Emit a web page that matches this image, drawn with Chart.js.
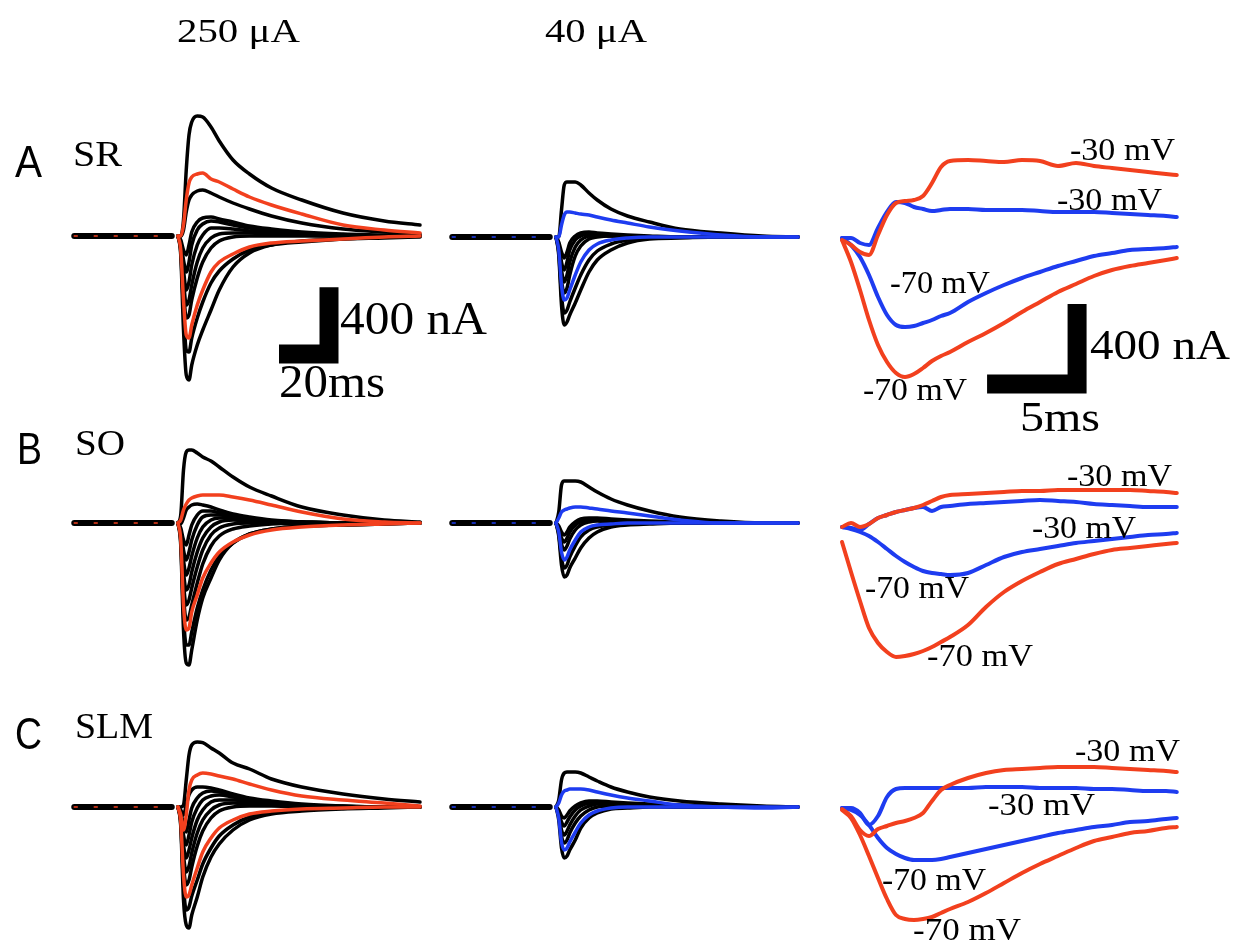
<!DOCTYPE html>
<html>
<head>
<meta charset="utf-8">
<title>Evoked currents SR / SO / SLM</title>
<script src="https://cdn.jsdelivr.net/npm/chart.js@4.4.1/dist/chart.umd.min.js"></script>
<style>
  html, body { margin: 0; padding: 0; background: #fff; }
  #fig { position: relative; width: 1248px; height: 949px; overflow: hidden; }
  #traces { position: absolute; left: 0; top: 0; }
  .lbl { position: absolute; white-space: nowrap; line-height: 1; color: #000; transform-origin: 0 0; }
  .serif { font-family: "Liberation Serif", "Times New Roman", Times, serif; }
  .sans { font-family: "Liberation Sans", Arial, Helvetica, sans-serif; }
</style>
</head>
<body>
<div id="fig">
  <canvas id="traces" width="1248" height="949"></canvas>
</div>
<script>
// ---- data (ms, nA) ----

// sample times after the stimulus for the I-V families (ms)
const fanT = [0, 1.1, 2.2, 3.3, 4.4, 5.5, 7.7, 9.9, 13.2, 16.5, 22, 28.6, 37.4, 49.5, 66, 82.5, 96.8];
// pre-stimulus baseline
const preT = [-41.5, -2.5];
const preI = [0, 0];

// SR, 250 uA
const sr250Black = [
  [0, 0, 96, 396, 606, 684, 720, 714, 654, 570, 456, 372, 288, 216, 138, 90, 66],
  [0, 0, 36, 144, 216, 246, 270, 276, 258, 234, 198, 162, 120, 78, 42, 24, 12],
  [0, -24, -84, -114, -54, 24, 84, 108, 114, 102, 84, 60, 42, 24, 12, 6, 0],
  [0, -36, -144, -216, -156, -54, 36, 72, 90, 84, 66, 48, 30, 18, 6, 0, 0],
  [0, -48, -204, -324, -276, -174, -54, 6, 48, 48, 42, 30, 18, 6, 0, 0, 0],
  [0, -60, -264, -414, -384, -294, -156, -72, -12, 12, 18, 18, 12, 6, 0, 0, 0],
  [0, -72, -324, -492, -474, -384, -252, -156, -72, -30, -6, 0, 0, 0, 0, 0, 0],
  [0, -96, -444, -684, -696, -612, -492, -396, -282, -210, -138, -84, -54, -36, -18, -6, 0],
  [0, -114, -564, -834, -864, -774, -654, -564, -444, -324, -186, -102, -54, -30, -18, -12, -6]
];
const sr250Red = [
  [0, 0, 66, 216, 318, 354, 372, 378, 342, 324, 282, 234, 186, 132, 66, 36, 18],
  [0, -84, -384, -594, -612, -534, -414, -324, -216, -156, -108, -66, -42, -30, -18, -6, 0]
];

// SR, 40 uA
const sr40Black = [
  [0, 0, 162, 312, 330, 330, 330, 312, 264, 222, 168, 126, 90, 48, 24, 6, 0],
  [0, -30, -90, -126, -90, -36, 6, 24, 30, 24, 18, 12, 6, 0, 0, 0, 0],
  [0, -42, -150, -198, -150, -78, -18, 6, 18, 18, 12, 6, 0, 0, 0, 0, 0],
  [0, -54, -198, -270, -228, -150, -60, -18, 6, 12, 6, 6, 0, 0, 0, 0, 0],
  [0, -66, -258, -336, -306, -228, -114, -54, -12, 0, 6, 0, 0, 0, 0, 0, 0],
  [0, -90, -348, -456, -438, -390, -306, -228, -138, -84, -42, -18, -6, 0, 0, 0, 0],
  [0, -108, -408, -528, -510, -468, -396, -318, -210, -138, -78, -36, -12, -6, 0, 0, 0]
];
const sr40Blue = [
  [0, 0, 72, 132, 150, 150, 144, 138, 132, 120, 102, 84, 60, 36, 12, 0, 0],
  [0, -78, -288, -378, -366, -318, -228, -150, -78, -42, -18, -6, 0, 0, 0, 0, 0]
];

// SO, 250 uA
const so250Black = [
  [0, 48, 318, 426, 438, 438, 420, 396, 372, 336, 276, 216, 162, 96, 48, 18, 6],
  [0, -6, 30, 78, 96, 108, 114, 108, 96, 78, 54, 36, 18, 6, 0, 0, 0],
  [0, -30, -102, -132, -72, -12, 48, 72, 72, 60, 42, 24, 12, 6, 0, 0, 0],
  [0, -42, -162, -222, -174, -102, -12, 36, 48, 48, 36, 24, 12, 6, 0, 0, 0],
  [0, -54, -222, -312, -270, -198, -90, -24, 18, 30, 30, 18, 12, 6, 0, 0, 0],
  [0, -66, -294, -402, -372, -294, -174, -90, -24, 6, 18, 12, 6, 0, 0, 0, 0],
  [0, -78, -360, -492, -462, -390, -264, -162, -72, -30, -6, 0, 0, 0, 0, 0, 0],
  [0, -90, -432, -582, -564, -492, -360, -246, -138, -78, -36, -18, -6, 0, 0, 0, 0],
  [0, -114, -552, -732, -732, -654, -510, -402, -282, -198, -120, -66, -36, -18, -12, -6, 0],
  [0, -132, -642, -840, -852, -762, -582, -450, -330, -222, -120, -66, -36, -18, -12, -6, 0]
];
const so250Red = [
  [0, 18, 78, 114, 138, 150, 162, 168, 168, 168, 156, 138, 108, 66, 24, 6, 0],
  [0, -102, -492, -642, -630, -534, -432, -330, -240, -174, -114, -72, -42, -24, -12, -6, 0]
];

// SO, 40 uA
const so40Black = [
  [0, 66, 228, 252, 252, 252, 252, 246, 216, 186, 144, 108, 72, 36, 12, 0, 0],
  [0, -18, -54, -72, -54, -24, 6, 24, 30, 30, 24, 18, 12, 6, 0, 0, 0],
  [0, -30, -90, -114, -90, -54, -12, 6, 18, 18, 12, 6, 6, 0, 0, 0, 0],
  [0, -42, -126, -162, -138, -96, -42, -12, 6, 12, 6, 6, 0, 0, 0, 0, 0],
  [0, -66, -210, -270, -252, -204, -138, -84, -42, -24, -12, -6, 0, 0, 0, 0, 0],
  [0, -78, -252, -324, -312, -270, -210, -150, -90, -54, -24, -12, -6, 0, 0, 0, 0]
];
const so40Blue = [
  [0, 30, 66, 78, 84, 90, 96, 96, 90, 84, 72, 60, 42, 18, 0, 0, 0],
  [0, -54, -174, -222, -204, -162, -102, -54, -24, -12, -6, 0, 0, 0, 0, 0, 0]
];

// SLM, 250 uA
const slm250Black = [
  [0, 0, 12, 162, 312, 372, 390, 386, 354, 324, 264, 228, 168, 120, 78, 48, 30],
  [0, -18, -48, 12, 72, 102, 120, 120, 114, 102, 78, 54, 36, 18, 6, 0, 0],
  [0, -30, -108, -150, -78, -6, 54, 84, 96, 90, 72, 48, 30, 12, 6, 0, 0],
  [0, -42, -168, -228, -168, -90, -6, 42, 66, 72, 60, 42, 24, 12, 0, 0, 0],
  [0, -54, -228, -306, -258, -186, -78, -18, 30, 42, 42, 30, 18, 6, 0, 0, 0],
  [0, -66, -288, -390, -354, -276, -156, -78, -18, 12, 24, 18, 12, 6, 0, 0, 0],
  [0, -78, -348, -468, -438, -360, -234, -144, -66, -24, 0, 6, 6, 0, 0, 0, 0],
  [0, -102, -468, -618, -600, -534, -438, -342, -246, -174, -108, -60, -30, -18, -6, 0, 0],
  [0, -114, -558, -708, -726, -648, -540, -420, -300, -222, -138, -78, -42, -24, -12, -6, 0]
];
const slm250Red = [
  [0, -48, -138, -48, 102, 162, 192, 204, 198, 186, 168, 138, 102, 66, 42, 24, 6],
  [0, -90, -408, -540, -528, -468, -366, -270, -186, -126, -78, -42, -24, -12, -6, 0, 0]
];

// SLM, 40 uA
const slm40Black = [
  [0, 42, 162, 204, 210, 210, 210, 204, 180, 156, 120, 90, 60, 36, 18, 6, 0],
  [0, -18, -54, -66, -48, -24, 6, 24, 36, 36, 30, 24, 18, 12, 6, 0, 0],
  [0, -30, -90, -114, -90, -60, -18, 6, 24, 30, 24, 18, 12, 6, 0, 0, 0],
  [0, -42, -138, -168, -144, -108, -54, -18, 6, 18, 18, 12, 6, 6, 0, 0, 0],
  [0, -54, -174, -216, -198, -156, -96, -54, -18, 0, 6, 6, 6, 0, 0, 0, 0],
  [0, -78, -246, -306, -294, -258, -198, -126, -66, -36, -12, -6, 0, 0, 0, 0, 0]
];
const slm40Blue = [
  [0, 24, 72, 96, 102, 108, 108, 108, 102, 90, 72, 54, 36, 12, 0, -6, 0],
  [0, -66, -210, -258, -246, -210, -150, -96, -48, -24, -6, 0, 0, 0, 0, 0, 0]
];

// expanded view, -30 / -70 mV holding (ms after onset)
const zoomT = [0, 0.5, 1, 1.5, 2, 2.5, 3, 3.5, 4, 4.5, 5, 5.5, 6, 7, 8, 9, 10, 11, 12, 13, 14, 15, 16, 17, 18, 18.6];

const srRed30  = [-10, -35, -70, -85, 15, 115, 175, 185, 190, 210, 275, 355, 385, 390, 385, 380, 390, 385, 360, 375, 360, 350, 340, 330, 320, 315];
const srBlue30 = [0, 0, -25, -35, 50, 130, 180, 175, 155, 145, 135, 140, 145, 145, 140, 140, 140, 135, 130, 130, 130, 125, 120, 115, 110, 105];
const srBlue70 = [0, -35, -95, -185, -295, -385, -435, -445, -440, -425, -410, -390, -375, -320, -275, -235, -200, -170, -140, -115, -90, -75, -60, -55, -50, -45];
const srRed70  = [-10, -120, -260, -410, -535, -620, -675, -695, -680, -650, -615, -590, -570, -520, -475, -425, -370, -320, -270, -230, -190, -160, -140, -125, -110, -100];

const soRed30  = [0, 20, 0, 15, 45, 60, 75, 85, 95, 110, 130, 150, 160, 165, 170, 175, 180, 180, 185, 185, 185, 185, 185, 180, 175, 170];
const soBlue30 = [0, -5, -15, 15, 45, 60, 75, 85, 95, 100, 80, 100, 105, 115, 120, 125, 130, 135, 130, 125, 115, 110, 105, 100, 100, 100];
const soBlue70 = [0, -10, -25, -45, -75, -110, -145, -175, -200, -220, -230, -235, -240, -230, -190, -150, -125, -110, -95, -80, -70, -60, -50, -40, -35, -30];
const soRed70  = [-75, -225, -370, -505, -580, -625, -650, -645, -635, -620, -600, -575, -550, -490, -400, -325, -270, -225, -185, -160, -135, -115, -105, -95, -85, -80];

const slmRed30  = [-5, -40, -110, -140, -105, -90, -75, -65, -50, -25, 35, 90, 115, 150, 175, 190, 195, 200, 205, 205, 205, 200, 195, 190, 185, 180];
const slmBlue30 = [0, 0, -25, -85, -40, 55, 95, 100, 100, 100, 100, 100, 100, 100, 105, 105, 105, 100, 100, 100, 95, 95, 90, 85, 85, 80];
const slmBlue70 = [0, -10, -35, -85, -150, -200, -230, -250, -260, -260, -260, -255, -245, -225, -205, -185, -165, -145, -125, -110, -95, -85, -70, -65, -55, -50];
const slmRed70  = [-10, -50, -135, -240, -350, -455, -535, -555, -560, -555, -545, -525, -505, -470, -425, -375, -325, -280, -240, -200, -165, -145, -125, -115, -100, -95];

// scale bars: [ms, nA]
const barSlow = [20, 400];
const barFast = [5, 400];

// ---- layout ----
const W = 1248, H = 949;
const RED = '#f2401e';
const BLUE = '#1e3cf0';

// stimulus x (px), px per ms, nA per px for each column
const cols = {
  L: { x0: 178, pxPerMs: 2.5, nAPerPx: 6 },
  M: { x0: 556, pxPerMs: 2.5, nAPerPx: 6 },
  R: { x0: 842, pxPerMs: 18, nAPerPx: 5 }
};
// zero-current line (px) per row / column
const base = {
  A: { L: 236, M: 237, R: 238 },
  B: { L: 523, M: 523, R: 527 },
  C: { L: 807, M: 807, R: 808 }
};

const scales = {};
Object.keys(cols).forEach(c => {
  const k = cols[c];
  scales['x' + c] = { type: 'linear', display: false, min: -k.x0 / k.pxPerMs, max: (W - k.x0) / k.pxPerMs };
  Object.keys(base).forEach(r => {
    const b = base[r][c];
    scales['y' + r + c] = { type: 'linear', display: false, min: -(H - b) * k.nAPerPx, max: b * k.nAPerPx };
  });
});

function trace(times, vals, color, width, row, col) {
  return {
    data: times.map((t, i) => ({ x: t, y: vals[i] })),
    borderColor: color,
    borderWidth: width,
    pointRadius: 0,
    fill: false,
    cubicInterpolationMode: 'monotone',
    borderJoinStyle: 'round',
    borderCapStyle: 'round',
    xAxisID: 'x' + col,
    yAxisID: 'y' + row + col
  };
}

// L-shaped scale bar, corner at (t0, i0)
function scaleBar(bar, t0, i0, row, col) {
  return {
    data: [{ x: t0 - bar[0], y: i0 }, { x: t0, y: i0 }, { x: t0, y: i0 + bar[1] }],
    borderColor: '#000',
    borderWidth: 19,
    pointRadius: 0,
    tension: 0,
    borderJoinStyle: 'miter',
    borderCapStyle: 'butt',
    xAxisID: 'x' + col,
    yAxisID: 'y' + row + col
  };
}

const families = [
  { row: 'A', col: 'L', black: sr250Black, hi: sr250Red, color: RED },
  { row: 'A', col: 'M', black: sr40Black, hi: sr40Blue, color: BLUE },
  { row: 'B', col: 'L', black: so250Black, hi: so250Red, color: RED },
  { row: 'B', col: 'M', black: so40Black, hi: so40Blue, color: BLUE },
  { row: 'C', col: 'L', black: slm250Black, hi: slm250Red, color: RED },
  { row: 'C', col: 'M', black: slm40Black, hi: slm40Blue, color: BLUE }
];

const expanded = [
  { row: 'A', traces: [[srRed30, RED], [srBlue30, BLUE], [srBlue70, BLUE], [srRed70, RED]] },
  { row: 'B', traces: [[soRed30, RED], [soBlue30, BLUE], [soBlue70, BLUE], [soRed70, RED]] },
  { row: 'C', traces: [[slmRed30, RED], [slmBlue30, BLUE], [slmBlue70, BLUE], [slmRed70, RED]] }
];

// first dataset is painted last, so highlighted traces go first
const datasets = [];
expanded.forEach(p => {
  p.traces.forEach(([v, c]) => datasets.push(trace(zoomT, v, c, 4, p.row, 'R')));
});
families.forEach(f => {
  f.hi.forEach(v => datasets.push(trace(fanT, v, f.color, 3.5, f.row, f.col)));
});
families.forEach(f => {
  const ds = trace(preT, preI, f.color, 1.5, f.row, f.col);
  ds.borderDash = [3, 17];
  datasets.push(ds);
});
families.forEach(f => {
  f.black.forEach(v => datasets.push(trace(fanT, v, '#000', 3.5, f.row, f.col)));
  datasets.push(trace(preT, preI, '#000', 6, f.row, f.col));
});
datasets.push(scaleBar(barSlow, 60.4, -708, 'A', 'L'));
datasets.push(scaleBar(barFast, 13.06, -730, 'A', 'R'));

new Chart(document.getElementById('traces'), {
  type: 'line',
  data: { datasets: datasets },
  options: {
    responsive: false,
    animation: false,
    events: [],
    layout: { padding: 0 },
    scales: scales,
    plugins: { legend: { display: false }, tooltip: { enabled: false } }
  }
});

// ---- text ----
// [text, left, cap top, target width, font size, family]
const labels = [
  ['250 μA', 177, 20, 123, 34, 'serif'],
  ['40 μA', 545, 20, 102, 34, 'serif'],
  ['A', 15, 145, 27, 45, 'sans'],
  ['B', 17, 432, 25, 45, 'sans'],
  ['C', 15, 717, 27, 45, 'sans'],
  ['SR', 73, 143, 49, 35, 'serif'],
  ['SO', 75, 432, 50, 35, 'serif'],
  ['SLM', 75, 715, 78, 35, 'serif'],
  ['400 nA', 340, 303, 147, 47, 'serif'],
  ['20ms', 279, 366, 106, 47, 'serif'],
  ['400 nA', 1090, 330, 140, 43, 'serif'],
  ['5ms', 1020, 402, 80, 43, 'serif'],
  ['-30 mV', 1070, 138, 105, 32, 'serif'],
  ['-30 mV', 1057, 188, 105, 32, 'serif'],
  ['-70 mV', 890, 271, 100, 32, 'serif'],
  ['-70 mV', 863, 378, 104, 32, 'serif'],
  ['-30 mV', 1067, 464, 105, 32, 'serif'],
  ['-30 mV', 1032, 516, 104, 32, 'serif'],
  ['-70 mV', 865, 576, 104, 32, 'serif'],
  ['-70 mV', 927, 644, 106, 32, 'serif'],
  ['-30 mV', 1075, 739, 105, 32, 'serif'],
  ['-30 mV', 988, 793, 107, 32, 'serif'],
  ['-70 mV', 882, 868, 104, 32, 'serif'],
  ['-70 mV', 913, 918, 108, 32, 'serif']
];

const fig = document.getElementById('fig');
labels.forEach(([text, x, capTop, w, size, fam]) => {
  const d = document.createElement('div');
  d.className = 'lbl ' + fam;
  d.textContent = text;
  d.style.fontSize = size + 'px';
  d.style.left = x + 'px';
  d.style.top = (capTop - (fam === 'sans' ? 0.13 : 0.17) * size) + 'px';
  fig.appendChild(d);
  const sx = w / d.getBoundingClientRect().width;
  d.style.transform = 'scaleX(' + sx.toFixed(3) + ')';
});
</script>
</body>
</html>
